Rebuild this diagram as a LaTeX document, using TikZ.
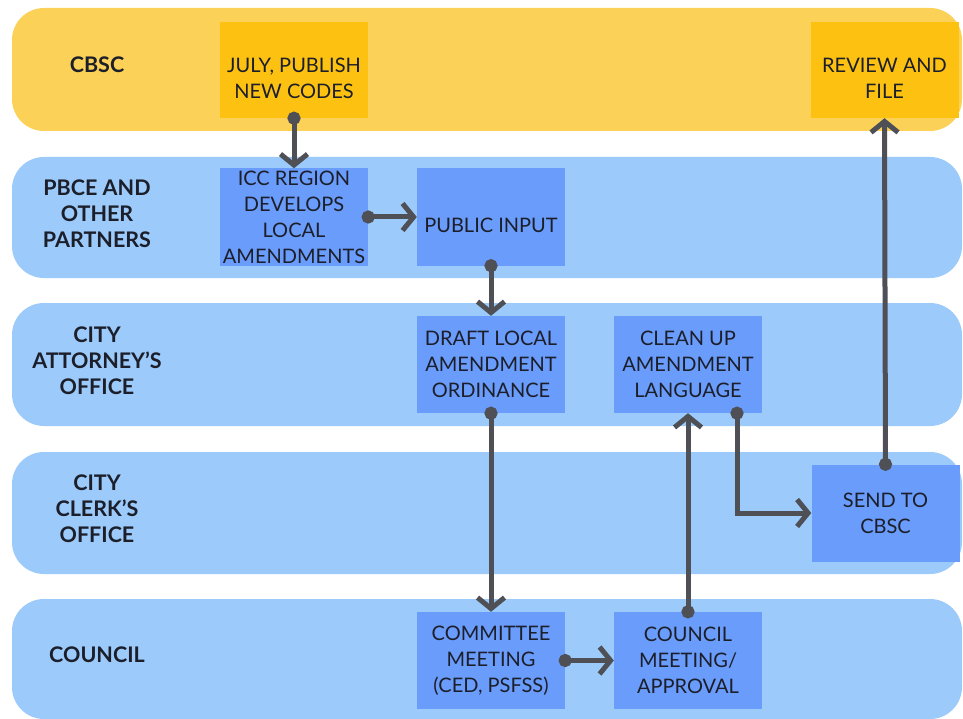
\documentclass[tikz,border=0pt]{standalone}
\usepackage{fontspec}
\setmainfont{Lato}
\usetikzlibrary{arrows.meta}
\definecolor{laneY}{HTML}{FCD157}
\definecolor{boxY}{HTML}{FDC112}
\definecolor{laneB}{HTML}{9BCAFB}
\definecolor{boxB}{HTML}{6A9CFB}
\definecolor{conn}{HTML}{4F4F56}
\definecolor{txt}{HTML}{1C1F2A}
\begin{document}
\begin{tikzpicture}[x=1pt,y=-1pt,
  lane/.style={rounded corners=32pt,minimum width=950pt,inner sep=0pt},
  lanelabel/.style={align=center,font=\bfseries\fontsize{21.5}{26}\selectfont,text=txt},
  stepfont/.style={align=center,font=\fontsize{20}{26}\selectfont,text=txt},
  stepbox/.style={minimum width=148pt,minimum height=97pt,inner sep=0pt,stepfont},
  lowtext/.style={label={[stepfont,yshift=-8pt]center:{#1}}},
  flow/.style={draw=conn,line width=5pt,
    {Circle[length=13pt]}-{Straight Barb[length=11pt,width=27pt]},shorten <=-6.5pt}]
\useasboundingbox (0,0) rectangle (963,719);
\fill[white] (0,0) rectangle (963,719);
% lanes
\node[lane,fill=laneY,minimum height=123pt] (l1) at (487,69.5) {};
\node[lane,fill=laneB,minimum height=121pt] (l2) at (487,217.5) {};
\node[lane,fill=laneB,minimum height=123pt] (l3) at (487,364.5) {};
\node[lane,fill=laneB,minimum height=122pt] (l4) at (487,513) {};
\node[lane,fill=laneB,minimum height=120pt] (l5) at (487,659) {};
% lane labels
\node[lanelabel] (t1) at (97,65) {CBSC};
\node[lanelabel] (t2) at (97,214) {PBCE AND\\OTHER\\PARTNERS};
\node[lanelabel] (t3) at (97,361) {CITY\\ATTORNEY’S\\OFFICE};
\node[lanelabel] (t4) at (97,509) {CITY\\CLERK’S\\OFFICE};
\node[lanelabel] (t5) at (97,655) {COUNCIL};
% boxes
\node[stepbox,fill=boxY,minimum height=96pt,lowtext={JULY, PUBLISH\\NEW CODES}] (july) at (294,70) {};
\node[stepbox,fill=boxY,minimum height=96pt,lowtext={REVIEW AND\\FILE}] (review) at (884.5,70) {};
\node[stepbox,fill=boxB] (icc) at (294,217) {ICC REGION\\DEVELOPS\\LOCAL\\AMENDMENTS};
\node[stepbox,fill=boxB,lowtext={PUBLIC INPUT}] (pub) at (491,217) {};
\node[stepbox,fill=boxB] (draft) at (491,364.5) {DRAFT LOCAL\\AMENDMENT\\ORDINANCE};
\node[stepbox,fill=boxB] (clean) at (688,364.5) {CLEAN UP\\AMENDMENT\\LANGUAGE};
\node[stepbox,fill=boxB] (send) at (885.5,513) {SEND TO\\CBSC};
\node[stepbox,fill=boxB] (comm) at (491,660.5) {COMMITTEE\\MEETING\\(CED, PSFSS)};
\node[stepbox,fill=boxB] (coun) at (688,660.5) {COUNCIL\\MEETING/\\APPROVAL};
% connectors
\draw[flow] (july.south) -- (icc.north);
\draw[flow] (icc.east) -- (pub.west);
\draw[flow] (pub.south) -- (draft.north);
\draw[flow] (draft.south) -- (comm.north);
\draw[flow] (comm.east) -- (coun.west);
\draw[flow] (coun.north) -- (clean.south);
\draw[flow] ([xshift=49pt]clean.south) |- (send.west);
\draw[flow] (send.north) -- (review.south);
\end{tikzpicture}
\end{document}
